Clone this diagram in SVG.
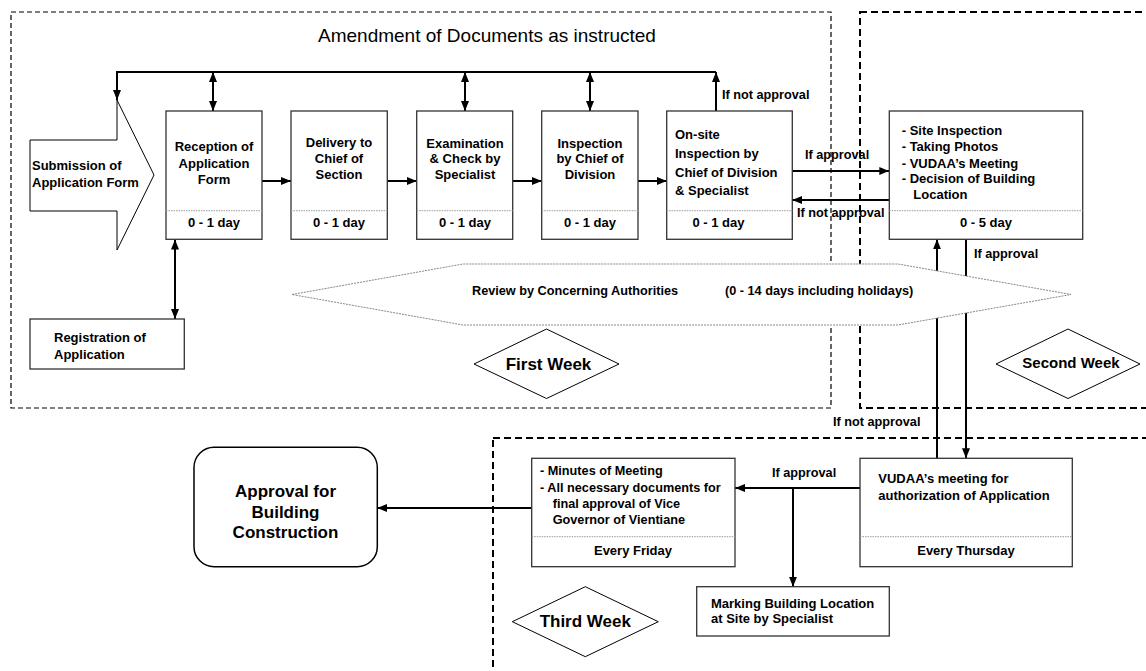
<svg xmlns="http://www.w3.org/2000/svg" width="1146" height="671" viewBox="0 0 1146 671">
<style>
.t{font-family:"Liberation Sans",Arial,Helvetica,sans-serif;font-weight:bold;font-size:13px;fill:#000}
.c{text-anchor:middle}
.l{font-size:12.7px}
.box{fill:#fff;stroke:#333;stroke-width:1.3}
.div{stroke:#999;stroke-width:1;stroke-dasharray:1.5,1}
.wk1{fill:none;stroke:#000;stroke-width:1.2;stroke-dasharray:5,3}
.wk2{fill:none;stroke:#000;stroke-width:2;stroke-dasharray:7,4}
.dia{fill:#fff;stroke:#000;stroke-width:1}
.cn{fill:none;stroke:#000;stroke-width:2}
</style>
<defs>
<marker id="ah" viewBox="0 0 10 8" refX="10" refY="4" markerWidth="10" markerHeight="8" orient="auto-start-reverse" markerUnits="userSpaceOnUse"><path d="M0,0 L10,4 L0,8 Z" fill="#000"/></marker>
</defs>
<rect width="1146" height="671" fill="#fff"/>

<g id="week-borders">
<rect class="wk1" x="11" y="12" width="820" height="396"/>
<rect class="wk2" x="860" y="12" width="320" height="396"/>
<rect class="wk2" x="493" y="438" width="700" height="300"/>
</g>

<text id="title" x="318" y="42" style="font-family:'Liberation Sans',Arial,sans-serif;font-size:19px;fill:#000">Amendment of Documents as instructed</text>

<g id="connectors">
<line class="cn" x1="716" y1="111" x2="716" y2="72" marker-end="url(#ah)"/>
<polyline class="cn" points="716,72 117,72 117,100" marker-end="url(#ah)"/>
<line class="cn" x1="213" y1="72" x2="213" y2="111" marker-start="url(#ah)" marker-end="url(#ah)"/>
<line class="cn" x1="465" y1="72" x2="465" y2="111" marker-start="url(#ah)" marker-end="url(#ah)"/>
<line class="cn" x1="590" y1="72" x2="590" y2="111" marker-start="url(#ah)" marker-end="url(#ah)"/>
<line class="cn" x1="262" y1="181" x2="291" y2="181" marker-end="url(#ah)"/>
<line class="cn" x1="387" y1="181" x2="416.7" y2="181" marker-end="url(#ah)"/>
<line class="cn" x1="513" y1="181" x2="541.7" y2="181" marker-end="url(#ah)"/>
<line class="cn" x1="638" y1="181" x2="666.7" y2="181" marker-end="url(#ah)"/>
<line class="cn" x1="175" y1="239.5" x2="175" y2="319" marker-start="url(#ah)" marker-end="url(#ah)"/>
<line class="cn" x1="792.3" y1="171" x2="889.3" y2="171" marker-end="url(#ah)"/>
<line class="cn" x1="889.3" y1="200" x2="792.3" y2="200" marker-end="url(#ah)"/>
<line class="cn" x1="937" y1="458.3" x2="937" y2="239.3" marker-end="url(#ah)"/>
<line class="cn" x1="966" y1="239.3" x2="966" y2="458.3" marker-end="url(#ah)"/>
<line class="cn" x1="860" y1="488" x2="735" y2="488" marker-end="url(#ah)"/>
<polyline class="cn" points="793,488 793,586.7" marker-end="url(#ah)"/>
<line class="cn" x1="531.7" y1="508" x2="377.3" y2="508" marker-end="url(#ah)"/>
<text class="t l" x="722" y="99">If not approval</text>
<text class="t l" x="805" y="159">If approval</text>
<text class="t l" x="797" y="217">If not approval</text>
<text class="t l" x="974" y="258">If approval</text>
<text class="t l" x="833" y="426">If not approval</text>
<text class="t l" x="772" y="477">If approval</text>
</g>

<g id="review">
<polygon points="292,294.5 463,264 898,264 1071,294.5 898,325 463,325" fill="#fff" stroke="#888" stroke-width="1" stroke-dasharray="2,1"/>
<text class="t l" x="472" y="295">Review by Concerning Authorities</text>
<text class="t l" x="725" y="295">(0 - 14 days including holidays)</text>
</g>

<g id="submission">
<path d="M30,140 L117,140 L117,100 L154,175 L117,250 L117,211 L30,211 Z" fill="#fff" stroke="#000" stroke-width="1"/>
<text class="t" x="32" y="170">Submission of</text>
<text class="t" x="32" y="187">Application Form</text>
</g>

<g id="reception">
<rect class="box" x="166" y="111" width="96" height="128.3"/>
<line class="div" x1="166" y1="210.7" x2="262" y2="210.7"/>
<text class="t c" x="214" y="151">Reception of</text>
<text class="t c" x="214" y="167.5">Application</text>
<text class="t c" x="214" y="183.5">Form</text>
<text class="t c" x="214" y="226.7">0 - 1 day</text>
</g>

<g id="delivery">
<rect class="box" x="291" y="111" width="96.3" height="128.3"/>
<line class="div" x1="291" y1="210.7" x2="387.3" y2="210.7"/>
<text class="t c" x="339" y="147">Delivery to</text>
<text class="t c" x="339" y="163">Chief of</text>
<text class="t c" x="339" y="179">Section</text>
<text class="t c" x="339" y="226.7">0 - 1 day</text>
</g>

<g id="examination">
<rect class="box" x="416.7" y="111" width="96" height="128.3"/>
<line class="div" x1="416.7" y1="210.7" x2="512.7" y2="210.7"/>
<text class="t c" x="465" y="147.7">Examination</text>
<text class="t c" x="465" y="163.3">&amp; Check by</text>
<text class="t c" x="465" y="179.3">Specialist</text>
<text class="t c" x="465" y="226.7">0 - 1 day</text>
</g>

<g id="inspection">
<rect class="box" x="541.7" y="111" width="96.3" height="128.3"/>
<line class="div" x1="541.7" y1="210.7" x2="638" y2="210.7"/>
<text class="t c" x="590" y="147.7">Inspection</text>
<text class="t c" x="590" y="163.3">by Chief of</text>
<text class="t c" x="590" y="179.3">Division</text>
<text class="t c" x="590" y="226.7">0 - 1 day</text>
</g>

<g id="onsite">
<rect class="box" x="666.7" y="111" width="125.6" height="128.3"/>
<line class="div" x1="666.7" y1="210.7" x2="792.3" y2="210.7"/>
<text class="t" x="675" y="139.3">On-site</text>
<text class="t" x="675" y="158.3">Inspection by</text>
<text class="t" x="675" y="176.7">Chief of Division</text>
<text class="t" x="675" y="195">&amp; Specialist</text>
<text class="t c" x="718.5" y="226.7">0 - 1 day</text>
</g>

<g id="site-inspection">
<rect class="box" x="889.3" y="111" width="193.4" height="128.3"/>
<line class="div" x1="889.3" y1="210.7" x2="1082.7" y2="210.7"/>
<text class="t" x="901.7" y="135">- Site Inspection</text>
<text class="t" x="901.7" y="150.7">- Taking Photos</text>
<text class="t" x="901.7" y="167.7">- VUDAA’s Meeting</text>
<text class="t" x="901.7" y="183.3">- Decision of Building</text>
<text class="t" x="913.3" y="199">Location</text>
<text class="t c" x="986" y="226.7">0 - 5 day</text>
</g>

<g id="registration">
<rect class="box" x="30" y="319" width="154.3" height="50"/>
<text class="t" x="54" y="342.3">Registration of</text>
<text class="t" x="54" y="359.3">Application</text>
</g>

<g id="first-week">
<polygon class="dia" points="474,364 546.5,329 619,364 546.5,398.5"/>
<text class="t c" x="548.5" y="369.5" style="font-size:17px">First Week</text>
</g>

<g id="second-week">
<polygon class="dia" points="996,364 1068,329 1140,364 1068,398.5"/>
<text class="t c" x="1071" y="368" style="font-size:15px">Second Week</text>
</g>

<g id="third-week">
<polygon class="dia" points="512.3,621.7 585.3,586.7 658.3,621.7 585.3,656.7"/>
<text class="t c" x="585.3" y="626.7" style="font-size:17px">Third Week</text>
</g>

<g id="vudaa-meeting">
<rect class="box" x="860" y="458.3" width="212.3" height="108.4"/>
<line class="div" x1="860" y1="536.7" x2="1072.3" y2="536.7"/>
<text class="t" x="878.3" y="483.3">VUDAA’s meeting for</text>
<text class="t" x="878.3" y="500">authorization of Application</text>
<text class="t c" x="966" y="555">Every Thursday</text>
</g>

<g id="friday">
<rect class="box" x="531.7" y="458.3" width="203.3" height="108.4"/>
<line class="div" x1="531.7" y1="536.7" x2="735" y2="536.7"/>
<text class="t l" x="540" y="475">- Minutes of Meeting</text>
<text class="t l" x="540" y="491.7">- All necessary documents for</text>
<text class="t l" x="552.7" y="507.7">final approval of Vice</text>
<text class="t l" x="552.7" y="524">Governor of Vientiane</text>
<text class="t c" x="633" y="555">Every Friday</text>
</g>

<g id="marking">
<rect class="box" x="696.7" y="586.7" width="192.6" height="49.3"/>
<text class="t" x="711" y="608.3">Marking Building Location</text>
<text class="t" x="711" y="623.3">at Site by Specialist</text>
</g>

<g id="approval">
<rect x="194" y="447.3" width="183.3" height="119.4" rx="20" fill="#fff" stroke="#000" stroke-width="1.5"/>
<text class="t c" x="285.5" y="497" style="font-size:17px">Approval for</text>
<text class="t c" x="285.5" y="517.5" style="font-size:17px">Building</text>
<text class="t c" x="285.5" y="537.5" style="font-size:17px">Construction</text>
</g>
</svg>
